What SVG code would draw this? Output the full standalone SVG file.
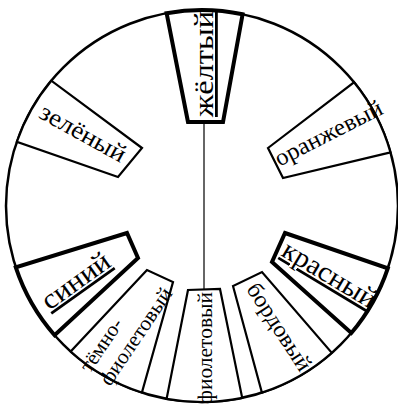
<svg xmlns="http://www.w3.org/2000/svg" width="398" height="407" viewBox="0 0 398 407">
<style>
.rim{fill:#fff;stroke:#000;stroke-width:2.5}
.box{fill:#fff;stroke:#000;stroke-width:2.2;stroke-linejoin:miter}
.bold{stroke-width:4}
.lbl{font-family:"Liberation Serif","Times New Roman",serif;fill:#000}
.u{text-decoration:underline}
.conn{stroke:#333;stroke-width:1.5;fill:none}
</style>
<rect width="398" height="407" fill="#fff"/>
<circle id="rim" class="rim" cx="202" cy="206" r="196"/>
<g id="connectors">
<line class="conn" x1="204" y1="122" x2="204" y2="290"/>
</g>
<g id="yellow">
<path class="box bold" d="M188,122 L166.6,13.2 A196,196 0 0 1 242.6,14.3 L223,122 Z"/>
<text class="lbl u" font-size="28" text-anchor="middle" textLength="106" lengthAdjust="spacingAndGlyphs" transform="translate(213,64) rotate(-90)">жёлтый</text>
</g>
<g id="orange">
<path class="box" d="M268,148 L354,82.3 A196,196 0 0 1 390.5,152.4 L283,178 Z"/>
<text class="lbl" font-size="24" text-anchor="middle" textLength="118" lengthAdjust="spacingAndGlyphs" transform="translate(332,140) rotate(-27)">оранжевый</text>
</g>
<g id="red">
<path class="box bold" d="M285,233 L387.8,268.3 A196,196 0 0 1 351.3,333 L272,262 Z"/>
<text class="lbl u" font-size="28" text-anchor="middle" textLength="105" lengthAdjust="spacingAndGlyphs" transform="translate(325,282) rotate(31)">красный</text>
</g>
<g id="burgundy">
<path class="box" d="M233,286 L261.9,392.6 A196,196 0 0 0 331.8,352.8 L262,272 Z"/>
<text class="lbl" font-size="23" text-anchor="middle" textLength="100" lengthAdjust="spacingAndGlyphs" transform="translate(273,331) rotate(57)">бордовый</text>
</g>
<g id="violet">
<path class="box" d="M188,290 L166.6,398.8 A196,196 0 0 0 242.2,397.9 L220,289 Z"/>
<text class="lbl" font-size="22" text-anchor="middle" textLength="112" lengthAdjust="spacingAndGlyphs" transform="translate(212,348) rotate(-90)">фиолетовый</text>
</g>
<g id="dark-violet">
<path class="box" d="M147,270 L70.7,351.5 A196,196 0 0 0 141.9,392.5 L173,282 Z"/>
<g transform="translate(110,387) rotate(-56)">
<text class="lbl" font-size="21" x="0" y="-24" textLength="60" lengthAdjust="spacingAndGlyphs">тёмно-</text>
<text class="lbl" font-size="21" x="0" y="0" textLength="113" lengthAdjust="spacingAndGlyphs">фиолетовый</text>
</g>
</g>
<g id="blue">
<path class="box bold" d="M127,233 L15.8,267.4 A196,196 0 0 0 54.6,335.2 L138,258 Z"/>
<text class="lbl u" font-size="28" text-anchor="middle" textLength="78" lengthAdjust="spacingAndGlyphs" transform="translate(81,288) rotate(-35.6)">синий</text>
</g>
<g id="green">
<path class="box" d="M142,148 L51.3,80.7 A196,196 0 0 0 16.8,141.9 L118,177 Z"/>
<text class="lbl" font-size="25" text-anchor="middle" textLength="95" lengthAdjust="spacingAndGlyphs" transform="translate(79,140) rotate(29)">зелёный</text>
</g>
</svg>
